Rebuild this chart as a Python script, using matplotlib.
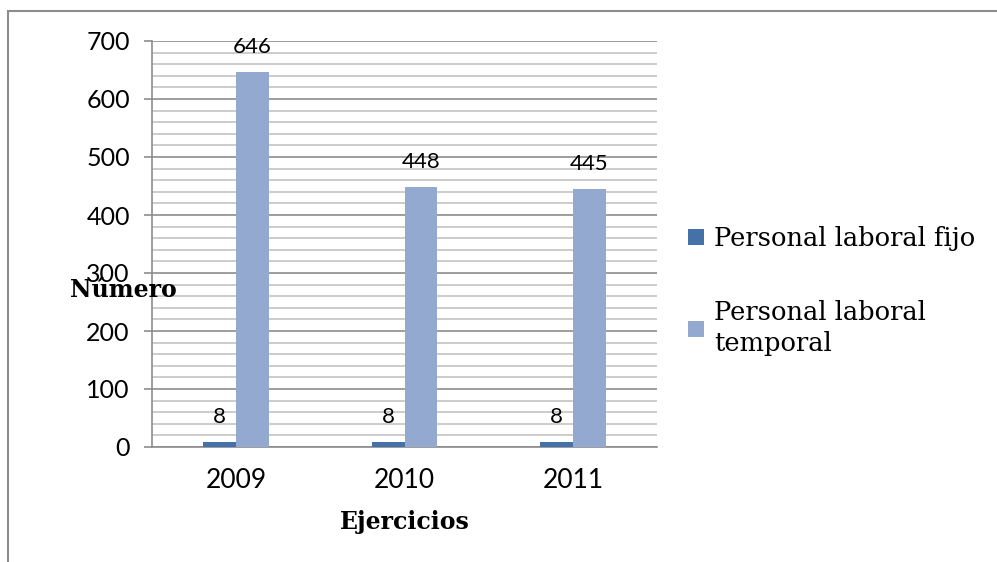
import numpy as np
import matplotlib.pyplot as plt
from matplotlib.patches import Rectangle
from matplotlib.ticker import MultipleLocator

years = ['2009', '2010', '2011']
fijo = [8, 8, 8]
temporal = [646, 448, 445]

c_fijo = '#4472A8'
c_temp = '#94A9D0'

fig = plt.figure(figsize=(9.97, 5.62), dpi=100)
ax = fig.add_axes([152/997, 1 - 447/562, 505/997, 406/562])

x = np.arange(len(years))
w = 0.196
b1 = ax.bar(x - w/2, fijo, w, color=c_fijo, label='Personal laboral fijo', zorder=3)
b2 = ax.bar(x + w/2, temporal, w, color=c_temp, label='Personal laboral\ntemporal', zorder=3)

for bars in (b1, b2):
    for r in bars:
        ax.annotate(str(int(r.get_height())), (r.get_x() + r.get_width()/2, r.get_height()),
                    xytext=(0, 11), textcoords='offset points', ha='center', va='bottom',
                    fontsize=16, family='Lato', color='black')

ax.set_xlim(-0.5, 2.5)
ax.set_ylim(0, 700)
ax.yaxis.set_major_locator(MultipleLocator(100))
ax.yaxis.set_minor_locator(MultipleLocator(20))
ax.grid(which='major', axis='y', color='#8c8c8c', lw=1.2, zorder=0)
ax.grid(which='minor', axis='y', color='#c4c4c4', lw=1.2, zorder=0)
ax.set_xticks(x)
ax.set_xticklabels(years)
ax.tick_params(axis='x', length=0, pad=15, labelsize=19)
ax.tick_params(axis='y', which='major', length=6, width=1.2, color='#8c8c8c', direction='out',
               labelsize=18, pad=10)
ax.tick_params(axis='y', which='minor', length=0)
for lab in ax.get_xticklabels() + ax.get_yticklabels():
    lab.set_family('Lato')
for s in ['top', 'right']:
    ax.spines[s].set_visible(False)
for s in ['left', 'bottom']:
    ax.spines[s].set_color('#8c8c8c')
    ax.spines[s].set_linewidth(1.2)

ax.set_xlabel('Ejercicios', family='DejaVu Serif', fontweight='bold', fontsize=17, labelpad=12)
fig.text(70/997, 1 - 290/562, 'Número', family='DejaVu Serif', fontweight='bold', fontsize=17,
         ha='left', va='center')

leg = ax.legend(loc='center left', bbox_to_anchor=(1.016, 0.384), frameon=False,
                prop={'family': 'DejaVu Serif', 'size': 18.5}, handlelength=0.6, handleheight=0.6,
                handletextpad=0.4, labelspacing=1.9)
for t in leg.get_texts():
    t.set_linespacing(1.3)

fig.patches.append(Rectangle((8/997, -0.2), 1.2, 1.2 - 11/562, transform=fig.transFigure,
                             fill=False, edgecolor='#8c8c8c', lw=1.5))

fig.savefig('out.png', dpi=100)
